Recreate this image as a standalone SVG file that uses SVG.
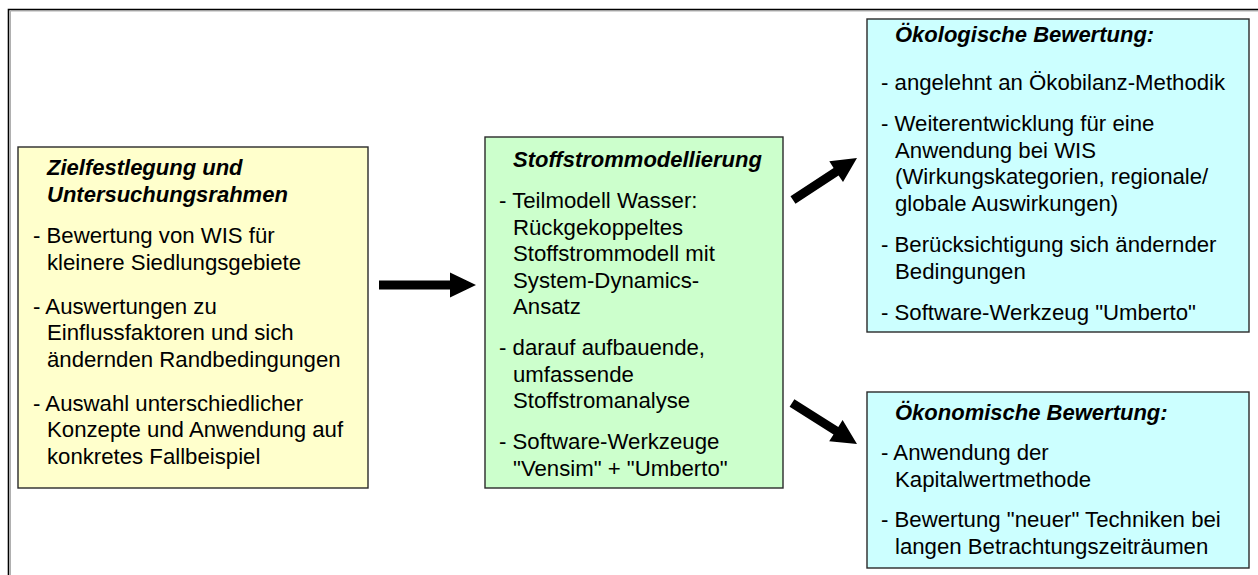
<svg xmlns="http://www.w3.org/2000/svg" width="1258" height="575" viewBox="0 0 1258 575">
  <style>
    .box { stroke: #2a2a2a; stroke-width: 1.4; }
    .yellow { fill: #FFFFCC; }
    .green { fill: #CCFFCC; }
    .cyan { fill: #CCFFFF; }
    .title { font-family: "Liberation Sans", Arial, sans-serif; font-size: 22px; font-weight: bold; font-style: italic; fill: #000; }
    .body { font-family: "Liberation Sans", Arial, sans-serif; font-size: 22.2px; fill: #000; }
    .arrow { fill: #000; }
  </style>

  <!-- page frame (open on the right and bottom) -->
  <path d="M10.5,575 V11 H1258" fill="none" stroke="#b0b0b0" stroke-width="1"/>
  <path d="M8.5,575 V9.5 H1258" fill="none" stroke="#000" stroke-width="1.6"/>

  <!-- goal definition -->
  <g id="zielfestlegung">
    <rect class="box yellow" x="18" y="147" width="350" height="341"/>
    <text class="title"><tspan x="47" y="175">Zielfestlegung und</tspan><tspan x="47" y="201.5">Untersuchungsrahmen</tspan></text>
    <text class="body">
      <tspan x="33" y="243">- Bewertung von WIS für</tspan>
      <tspan x="47" y="269.5">kleinere Siedlungsgebiete</tspan>
      <tspan x="33" y="313.5">- Auswertungen zu</tspan>
      <tspan x="47" y="340">Einflussfaktoren und sich</tspan>
      <tspan x="47" y="366.5">ändernden Randbedingungen</tspan>
      <tspan x="33" y="410.5">- Auswahl unterschiedlicher</tspan>
      <tspan x="47" y="437">Konzepte und Anwendung auf</tspan>
      <tspan x="47" y="463.5">konkretes Fallbeispiel</tspan>
    </text>
  </g>

  <!-- material flow modelling -->
  <g id="stoffstrommodellierung">
    <rect class="box green" x="485" y="137" width="298" height="351"/>
    <text class="title" x="513" y="167">Stoffstrommodellierung</text>
    <text class="body">
      <tspan x="499" y="208">- Teilmodell Wasser:</tspan>
      <tspan x="513" y="234.5">Rückgekoppeltes</tspan>
      <tspan x="513" y="261">Stoffstrommodell mit</tspan>
      <tspan x="513" y="287.5">System-Dynamics-</tspan>
      <tspan x="513" y="314">Ansatz</tspan>
      <tspan x="499" y="355">- darauf aufbauende,</tspan>
      <tspan x="513" y="381.5">umfassende</tspan>
      <tspan x="513" y="408">Stoffstromanalyse</tspan>
      <tspan x="499" y="449">- Software-Werkzeuge</tspan>
      <tspan x="513" y="475.5">"Vensim" + "Umberto"</tspan>
    </text>
  </g>

  <!-- ecological assessment -->
  <g id="oekologische-bewertung">
    <rect class="box cyan" x="867" y="19" width="382" height="313"/>
    <text class="title" x="895" y="42">Ökologische Bewertung:</text>
    <text class="body">
      <tspan x="881" y="90">- angelehnt an Ökobilanz-Methodik</tspan>
      <tspan x="881" y="131">- Weiterentwicklung für eine</tspan>
      <tspan x="895" y="157.5">Anwendung bei WIS</tspan>
      <tspan x="895" y="184">(Wirkungskategorien, regionale/</tspan>
      <tspan x="895" y="210.5">globale Auswirkungen)</tspan>
      <tspan x="881" y="252">- Berücksichtigung sich ändernder</tspan>
      <tspan x="895" y="278.5">Bedingungen</tspan>
      <tspan x="881" y="320">- Software-Werkzeug "Umberto"</tspan>
    </text>
  </g>

  <!-- economic assessment -->
  <g id="oekonomische-bewertung">
    <rect class="box cyan" x="867" y="392" width="382" height="176"/>
    <text class="title" x="895" y="420">Ökonomische Bewertung:</text>
    <text class="body">
      <tspan x="881" y="460">- Anwendung der</tspan>
      <tspan x="895" y="486.5">Kapitalwertmethode</tspan>
      <tspan x="881" y="527">- Bewertung "neuer" Techniken bei</tspan>
      <tspan x="895" y="553.5">langen Betrachtungszeiträumen</tspan>
    </text>
  </g>

  <!-- block arrows -->
  <g id="connectors">
    <polygon class="arrow" points="379,280.5 450,280.5 450,272.5 476,285 450,297.5 450,289.5 379,289.5"/>
    <polygon class="arrow" points="790.5,196.2 833.6,167.9 829.3,161.3 857,158 843,182.1 838.6,175.5 795.5,203.8"/>
    <polygon class="arrow" points="794.4,399.2 838.3,426.9 842.6,420.1 857,444 829.2,441.3 833.5,434.5 789.6,406.8"/>
  </g>
</svg>
